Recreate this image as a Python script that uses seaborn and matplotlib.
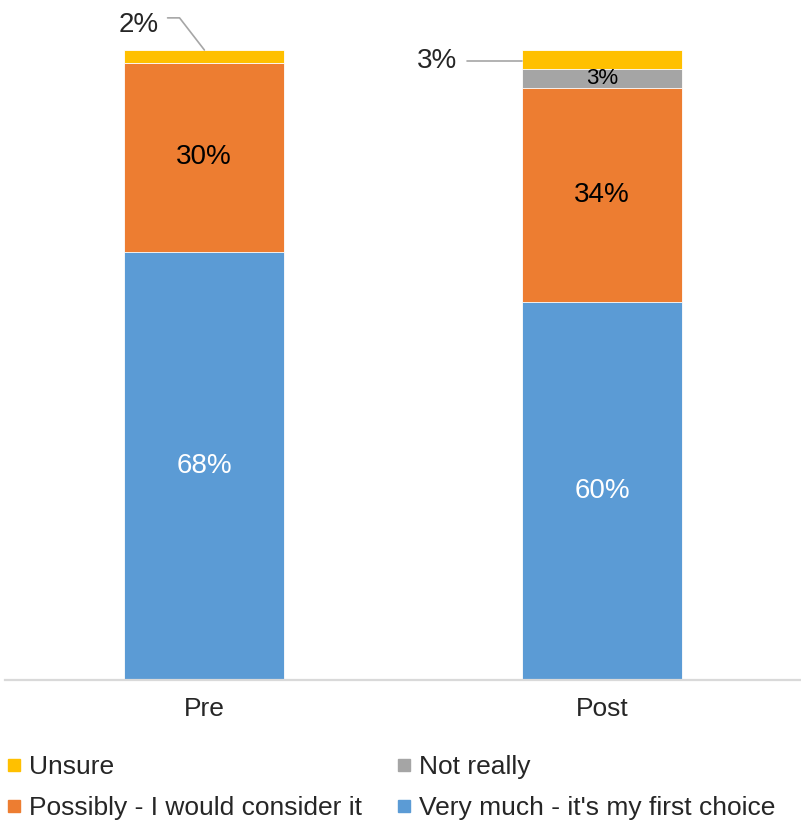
import matplotlib
matplotlib.use("Agg")
import matplotlib.pyplot as plt
from matplotlib.lines import Line2D
import seaborn as sns
import numpy as np
import pandas as pd

categories = ["Pre", "Post"]
very_much = [68, 60]
possibly = [30, 34]
not_really = [0, 3]
unsure = [2, 3]

series_names = ["Very much - it's my first choice", "Possibly - I would consider it", "Not really", "Unsure"]
colors = {"Very much - it's my first choice": "#5B9BD5",
          "Possibly - I would consider it": "#ED7D31",
          "Not really": "#A5A5A5",
          "Unsure": "#FFC000"}

sns.set_style("white")
plt.rcParams['font.family'] = ['Liberation Sans', 'DejaVu Sans']

fig = plt.figure(figsize=(8.01, 8.27), dpi=100)
ax = fig.add_axes([5/801, 147/827, 796/801, 630/827])

layers = [very_much, possibly, not_really, unsure]
cum = np.cumsum(np.array(layers), axis=0)
# draw totals from the top down so lower segments overlay upper ones
for i in range(len(layers) - 1, -1, -1):
    df = pd.DataFrame({"cat": categories, "val": cum[i]})
    sns.barplot(data=df, x="cat", y="val", color=colors[series_names[i]],
                width=0.4, ax=ax, edgecolor="white", linewidth=0.6, saturation=1)

ax.set_xlim(-0.5, 1.5)
ax.set_ylim(0, 100)
ax.set_xlabel("")
ax.set_ylabel("")
ax.set_yticks([])
for s in ["top", "right", "left"]:
    ax.spines[s].set_visible(False)
ax.spines["bottom"].set_color("#D9D9D9")
ax.spines["bottom"].set_linewidth(1.6)
ax.tick_params(axis="x", length=0, pad=12, labelsize=19)

# segment labels
for j in range(len(categories)):
    ax.text(j, very_much[j] / 2, f"{very_much[j]}%", ha="center", va="center",
            color="white", fontsize=20)
    ax.text(j, very_much[j] + possibly[j] / 2, f"{possibly[j]}%", ha="center",
            va="center", color="black", fontsize=20)
    if not_really[j] > 0:
        ax.text(j, very_much[j] + possibly[j] + not_really[j] / 2, f"{not_really[j]}%",
                ha="center", va="center", color="black", fontsize=16)

# leader-line labels for 'Unsure'
ax.text(-0.164, 104.0, f"{unsure[0]}%", ha="center", va="center", fontsize=20, clip_on=False)
ax.plot([-0.0915, -0.0614, 0.001], [105.1, 105.1, 100 - unsure[0] / 2 + 1.0],
        color="#A6A6A6", lw=1.2, clip_on=False)
ax.text(0.585, 98.2, f"{unsure[1]}%", ha="center", va="center", fontsize=20, clip_on=False)
ax.plot([0.66, 0.8], [98.25, 98.25], color="#A6A6A6", lw=1.2, clip_on=False)

order = ["Unsure", "Possibly - I would consider it", "Not really", "Very much - it's my first choice"]
handles = [Line2D([], [], marker="s", linestyle="", color=colors[n], markersize=8) for n in order]
fig.legend(handles, order, loc="lower left", bbox_to_anchor=(-0.005, -0.004), ncol=2,
           frameon=False, fontsize=19, handlelength=0.6, handletextpad=0.25,
           columnspacing=1.3, labelspacing=0.62, borderaxespad=0.0)

fig.savefig("out.png", dpi=100, facecolor="white")
